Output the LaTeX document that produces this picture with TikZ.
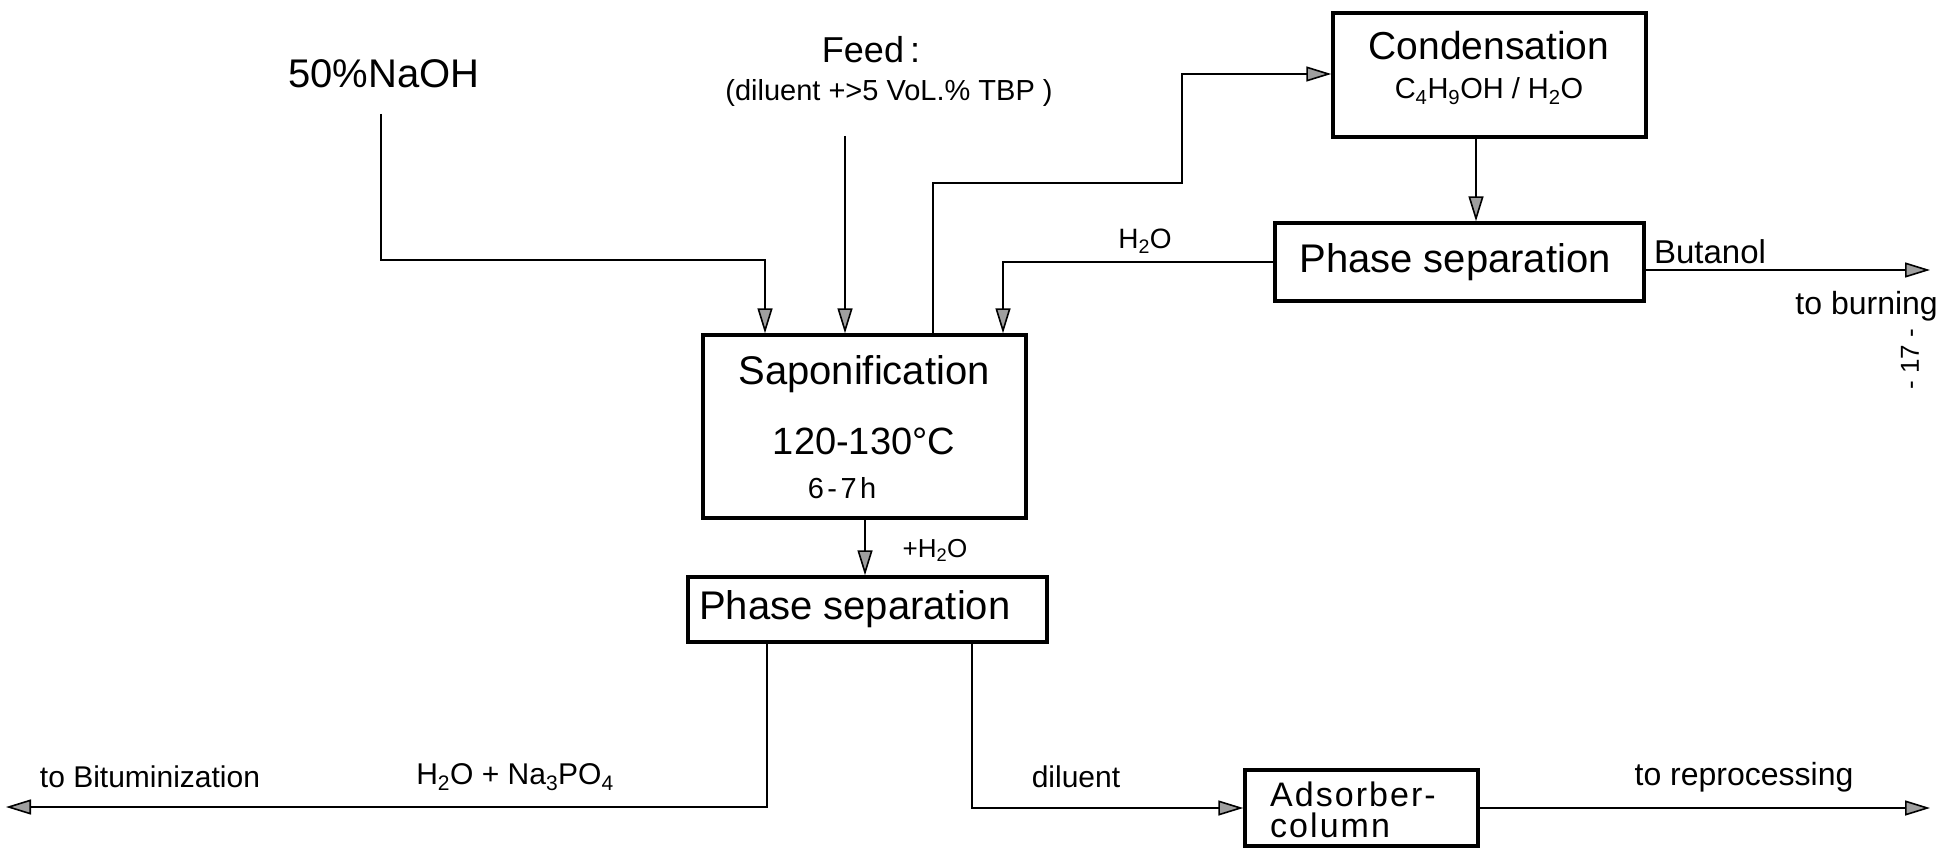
\documentclass[tikz,border=0pt]{standalone}
\usepackage{fontspec}
\setmainfont{Liberation Sans}
\newfontfamily\widefont[LetterSpace=12]{Liberation Sans}
\newfontfamily\semiwidefont[LetterSpace=6]{Liberation Sans}
\usetikzlibrary{arrows.meta}
\newcommand\fsz[1]{\fontsize{#1}{#1}\selectfont}
\begin{document}
\begin{tikzpicture}[x=1pt,y=-1pt,
  box/.style={draw, line width=3.5pt, inner sep=0pt},
  flow/.style={line width=1.6pt, -{Triangle[length=25pt,width=15pt,fill=gray!75]}},
  txt/.style={inner sep=0pt},
]
\useasboundingbox (0,0) rectangle (1941,848);
% boxes
\node[box, minimum width=313pt, minimum height=124pt] (cond) at (1489.5,75) {};
\node[box, minimum width=369pt, minimum height=78pt] (ps1) at (1459.5,262) {};
\node[box, minimum width=323pt, minimum height=183pt] (sap) at (864.5,426.5) {};
\node[box, minimum width=359pt, minimum height=65pt] (ps2) at (867.5,609.5) {};
\node[box, minimum width=233pt, minimum height=76pt] (ads) at (1361.5,808) {};
% texts in boxes
\node[txt, font=\fsz{39}] (condt) at (1489,46) {Condensation};
\node[txt, font=\fsz{29}] (condf) at (1489,91) {C\textsubscript{4}H\textsubscript{9}OH / H\textsubscript{2}O};
\node[txt, font=\fsz{40}] (ps1t) at (1455,262) {Phase separation};
\node[txt, font=\fsz{40}] (sapt) at (864,374) {Saponification};
\node[txt, font=\fsz{38}] (sapT) at (864,441) {120-130°C};
\node[txt, font=\widefont\fsz{29}] (saph) at (842,488) {6-7h};
\node[txt, font=\fsz{40}, anchor=west] (ps2t) at (699,609) {Phase separation};
\node[txt, font=\semiwidefont\fsz{34}, anchor=base west] (adst1) at (1270,806) {Adsorber-};
\node[txt, font=\semiwidefont\fsz{34}, anchor=base west] (adst2) at (1270,837) {column};
% free labels
\node[txt, font=\fsz{40}] (naoh) at (384,74) {50\%NaOH};
\node[txt, font=\fsz{36}] (feed) at (871,50) {Feed\,:};
\node[txt, font=\fsz{29}] (feedsub) at (889,93) {(diluent +>5 VoL.\% TBP )};
\node[txt, font=\fsz{28}] (h2olab) at (1145,241) {H\textsubscript{2}O};
\node[txt, font=\fsz{33}] (butlab) at (1710,252) {Butanol};
\node[txt, font=\fsz{32}, anchor=east] (burnlab) at (1938,306) {to burning};
\node[txt, font=\fsz{26}] (addh2o) at (935,550) {+H\textsubscript{2}O};
\node[txt, font=\fsz{30}] (bitlab) at (150,777) {to Bituminization};
\node[txt, font=\fsz{30}] (phoslab) at (515,777) {H\textsubscript{2}O + Na\textsubscript{3}PO\textsubscript{4}};
\node[txt, font=\fsz{30}] (dillab) at (1076,777) {diluent};
\node[txt, font=\fsz{32}] (replab) at (1744,777) {to reprocessing};
\node[txt, font=\fsz{26}, rotate=90] (page) at (1910,359) {- 17 -};
% coordinates
\coordinate (naohsrc) at (381,114);
\coordinate (naohbend) at (765,260);
\coordinate (feedsrc) at (845,136);
\coordinate (vap1) at (933,183);
\coordinate (vap2) at (1182,74);
\coordinate (cx) at (1476,0);
\coordinate (h2ox) at (1003,0);
\coordinate (burn) at (1930,270);
\coordinate (sx) at (865,0);
\coordinate (lx) at (767,0);
\coordinate (bit) at (6,807);
\coordinate (rx) at (972,0);
\coordinate (ry) at (0,808);
\coordinate (rep) at (1930,808);
% connectors
\draw[flow] (naohsrc) |- (naohbend) -- (naohbend |- sap.north);
\draw[flow] (feedsrc) -- (feedsrc |- sap.north);
\draw[flow] (vap1 |- sap.north) -- (vap1) -| (vap2) -- (vap2 -| cond.west);
\draw[flow] (cx |- cond.south) -- (cx |- ps1.north);
\draw[flow] (ps1.west) -| (h2ox |- sap.north);
\draw[flow] (ps1.east |- burn) -- (burn);
\draw[flow] (sx |- sap.south) -- (sx |- ps2.north);
\draw[flow] (lx |- ps2.south) |- (bit);
\draw[flow] (rx |- ps2.south) |- (ads.west |- ry);
\draw[flow] (ads.east |- rep) -- (rep);
\end{tikzpicture}
\end{document}
